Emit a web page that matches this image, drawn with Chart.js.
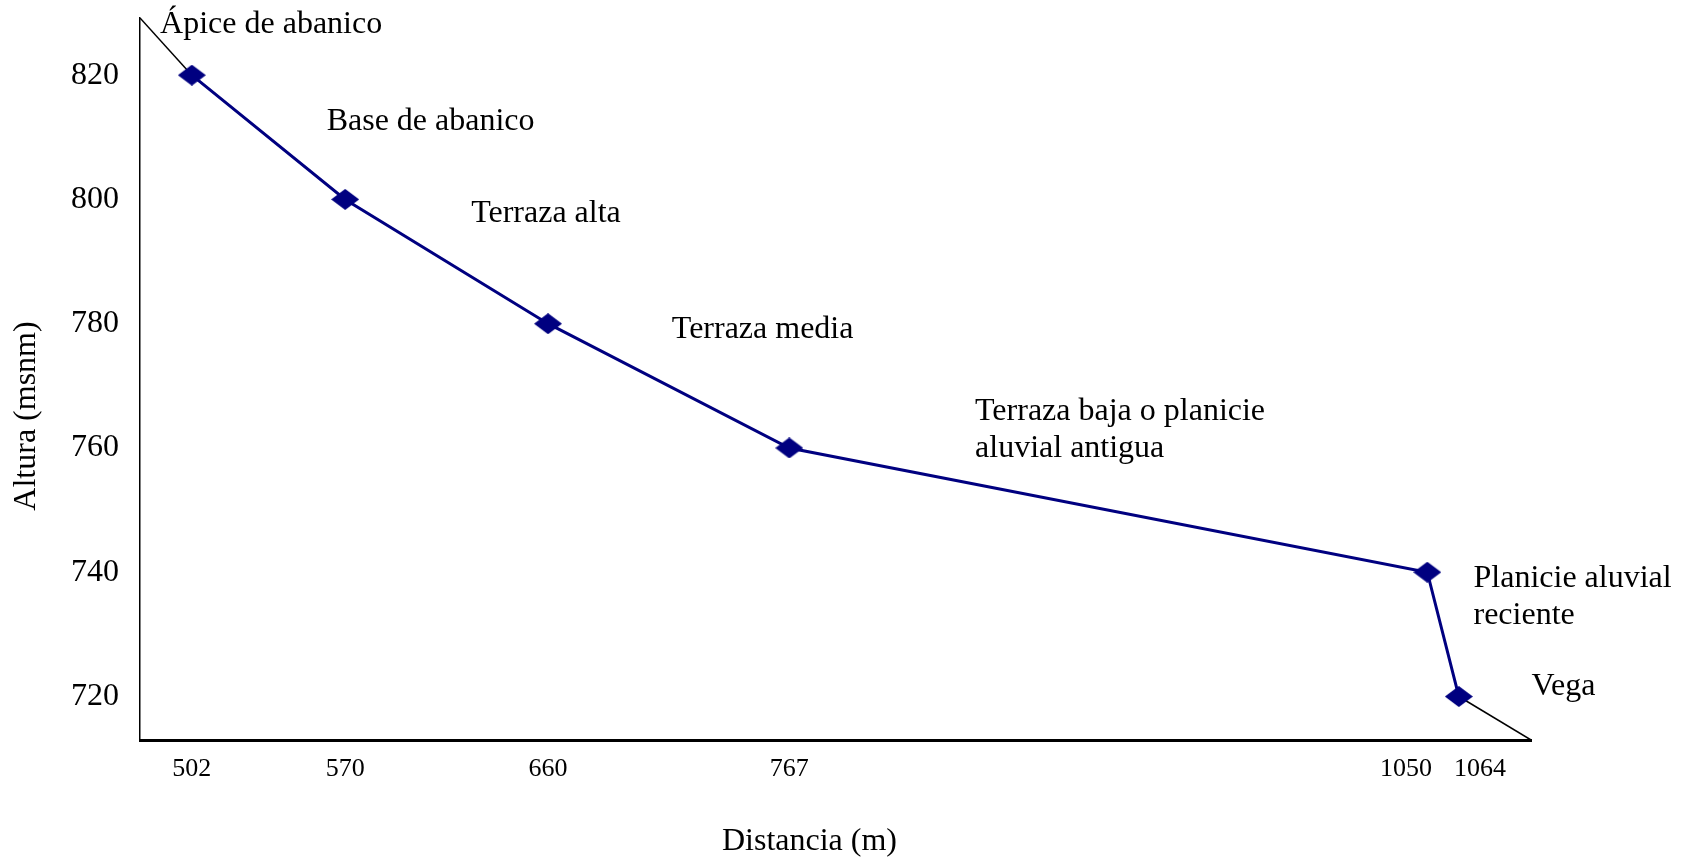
<!DOCTYPE html>
<html>
<head>
<meta charset="utf-8">
<script src="https://cdn.jsdelivr.net/npm/chart.js@4.4.1/dist/chart.umd.min.js"></script>
<style>
  html, body { margin: 0; padding: 0; background: #fff; }
  #wrap { width: 1691px; height: 862px; }
</style>
</head>
<body>
<div id="wrap"><canvas id="c"></canvas></div>
<script>
const distances = [502, 570, 660, 767, 1050, 1064];
const heights = [820, 800, 780, 760, 740, 720];
const yTicks = [720, 740, 760, 780, 800, 820];

// thin black lines from the profile ends out to the axis corners
const topExtX = [479, 502];
const topExtY = [829.2, 820];
const lowExtX = [1064, 1096];
const lowExtY = [720, 713];

// unit labels, anchored in data units (distance, altitude)
const noteText = [
  ["Ápice de abanico"],
  ["Base de abanico"],
  ["Terraza alta"],
  ["Terraza media"],
  ["Terraza baja o planicie", "aluvial antigua"],
  ["Planicie aluvial", "reciente"],
  ["Vega"]
];
const noteX = [487.9, 561.8, 625.9, 714.9, 849.4, 1070.5, 1096.2];
const noteY = [828.2, 812.5, 797.7, 779.1, 765.9, 739.0, 721.6];

const xTitle = "Distancia (m)";
const yTitle = "Altura (msnm)";

const SERIF = "'Liberation Serif', 'Times New Roman', serif";
const NAVY = "#000080";

function diamond(w, h, color) {
  const c = document.createElement("canvas");
  c.width = w; c.height = h;
  const g = c.getContext("2d");
  g.fillStyle = color;
  g.beginPath();
  g.moveTo(w / 2, 0); g.lineTo(w, h / 2); g.lineTo(w / 2, h); g.lineTo(0, h / 2);
  g.closePath();
  g.fill();
  return c;
}

const pts = (xs, ys) => xs.map((x, i) => ({ x: x, y: ys[i] }));

// push apart x tick labels that would overlap (1050 / 1064)
const nudgeTicks = {
  id: "nudgeTicks",
  beforeDraw(chart) {
    const s = chart.scales.x;
    const items = s.getLabelItems(chart.chartArea);
    if (items._nudged) return;
    const ctx = chart.ctx;
    const gap = 22;
    for (let i = 0; i < items.length - 1; i++) {
      const a = items[i], b = items[i + 1];
      ctx.font = a.font.string;
      const wa = ctx.measureText(a.label).width;
      const wb = ctx.measureText(b.label).width;
      const xa = a.options.translation[0], xb = b.options.translation[0];
      const need = (wa + wb) / 2 + gap;
      if (xb - xa < need) {
        const mid = (xa + xb) / 2;
        a.options.translation[0] = mid - need / 2;
        b.options.translation[0] = mid + need / 2;
      }
    }
    items._nudged = true;
  }
};

const notes = {
  id: "notes",
  afterDraw(chart) {
    const { ctx, chartArea: area, scales: { x, y } } = chart;
    ctx.save();
    ctx.font = "32px " + SERIF;
    ctx.fillStyle = "#000";
    ctx.textAlign = "left";
    ctx.textBaseline = "middle";
    noteText.forEach((lines, i) => {
      const px = x.getPixelForValue(noteX[i]);
      const py = y.getPixelForValue(noteY[i]);
      lines.forEach((t, j) => ctx.fillText(t, px, py + j * 37));
    });

    // axis titles (sit a little off the plot centre, as in the original)
    ctx.textAlign = "center";
    ctx.fillText(xTitle, (area.left + area.right) / 2 - 26, chart.height - 20);
    ctx.translate(27, (area.top + area.bottom) / 2 + 37);
    ctx.rotate(-Math.PI / 2);
    ctx.fillText(yTitle, 0, 0);
    ctx.restore();
  }
};

new Chart(document.getElementById("c"), {
  type: "line",
  data: {
    datasets: [
      {
        label: "Perfil",
        data: pts(distances, heights),
        borderColor: NAVY,
        borderWidth: 3,
        pointStyle: diamond(28, 21, NAVY),
        pointRadius: 10,
        tension: 0,
        order: 0
      },
      {
        label: "ext1",
        data: pts(topExtX, topExtY),
        borderColor: "#000",
        borderWidth: 1.5,
        pointRadius: 0,
        order: 1
      },
      {
        label: "ext2",
        data: pts(lowExtX, lowExtY),
        borderColor: "#000",
        borderWidth: 1.5,
        pointRadius: 0,
        order: 1
      }
    ]
  },
  options: {
    responsive: true,
    maintainAspectRatio: false,
    animation: false,
    layout: { autoPadding: false, padding: { top: 18, right: 160 } },
    plugins: { legend: { display: false }, tooltip: { enabled: false } },
    scales: {
      x: {
        type: "linear",
        min: 479,
        max: 1096,
        afterBuildTicks: s => { s.ticks = distances.map(v => ({ value: v })); },
        afterFit: s => { s.height = 122; s.paddingLeft = 0; s.paddingRight = 0; },
        grid: { display: false, drawTicks: false },
        border: { color: "#000", width: 3 },
        ticks: {
          autoSkip: false,
          maxRotation: 0,
          padding: 14,
          color: "#000",
          font: { family: SERIF, size: 26 },
          callback: v => String(v)
        },
        title: { display: false }
      },
      y: {
        min: 713,
        max: 829.2,
        afterBuildTicks: s => { s.ticks = yTicks.map(v => ({ value: v })); },
        afterFit: s => { s.width = 140; s.paddingTop = 0; s.paddingBottom = 0; },
        grid: { display: false, drawTicks: false },
        border: { color: "#000", width: 1.5 },
        ticks: {
          padding: 21,
          color: "#000",
          font: { family: SERIF, size: 32 },
          callback: v => String(v)
        },
        title: { display: false }
      }
    }
  },
  plugins: [nudgeTicks, notes]
});
</script>
</body>
</html>
